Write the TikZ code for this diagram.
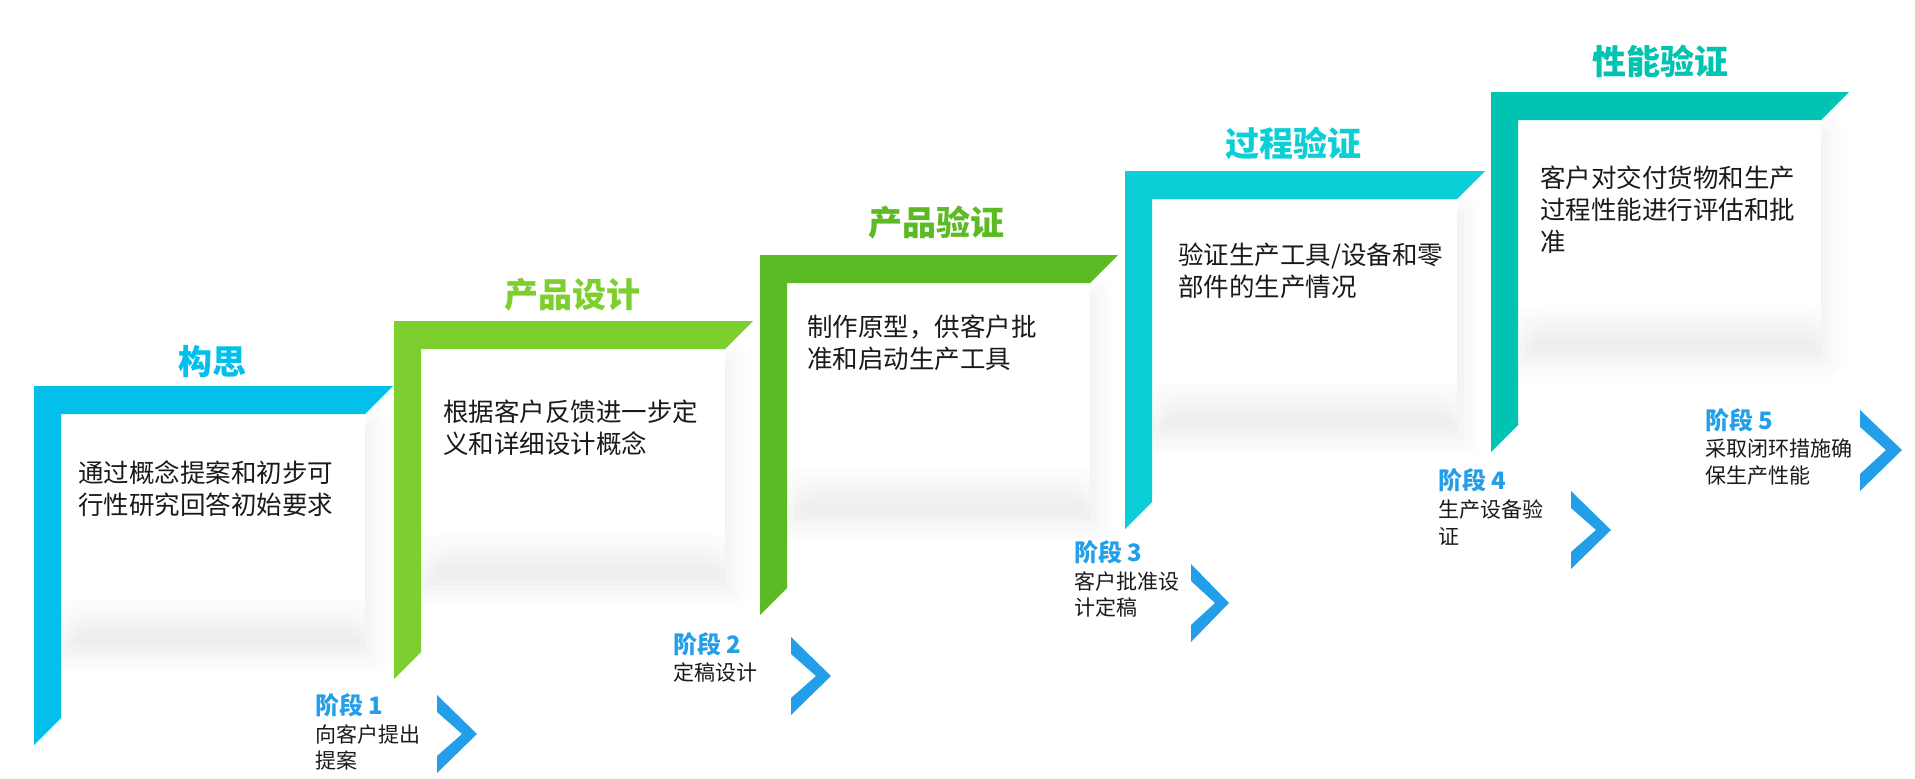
\documentclass[tikz,border=0pt]{standalone}
\usepackage{fontspec}
\setmainfont{Noto Sans CJK SC}
\usetikzlibrary{shadows.blur,fadings}
\definecolor{idea}{HTML}{02C0EB}
\definecolor{design}{HTML}{7FCE30}
\definecolor{proto}{HTML}{5CBB24}
\definecolor{process}{HTML}{0BCED6}
\definecolor{perf}{HTML}{00C3B2}
\definecolor{stageblue}{HTML}{229FE8}
\definecolor{ink}{HTML}{1A1A1A}

\begin{document}
\begin{tikzpicture}[x=1pt,y=-1pt,
        bar/.style={fill=#1,draw=none},
        haze/.style={blur shadow={shadow xshift=4pt,shadow yshift=-14pt,shadow blur radius=22pt,shadow opacity=8}},
        card/.style={fill=white,draw=none},
        cardfoot/.style={fill=white,draw=none,path fading=south},
        ttl/.style={font=\fontsize{34}{34}\selectfont\bfseries,text=#1,inner sep=0pt},
        body/.style={font=\fontsize{25.5}{32}\selectfont,text=ink,anchor=north west,align=left,inner sep=0pt},
        stage/.style={font=\fontsize{24}{24}\selectfont\bfseries,text=stageblue,anchor=base west,inner sep=0pt},
        note/.style={font=\fontsize{21}{26.5}\selectfont,text=ink,anchor=north west,align=left,inner sep=0pt},
        chev/.style={fill=stageblue,draw=none}
      ]
      \useasboundingbox (0,0) rectangle (1915,779);

      % the cards, with their soft shadow
      \path[haze] (61,414) rectangle (365,640);
      \path[haze] (421,349) rectangle (725,574);
      \path[haze] (787,283) rectangle (1090,509);
      \path[haze] (1152,199) rectangle (1457,423);
      \path[haze] (1518,120) rectangle (1821,346);
      \path[card] (61,414) rectangle (365,598);
      \path[card] (421,349) rectangle (725,532);
      \path[card] (787,283) rectangle (1090,467);
      \path[card] (1152,199) rectangle (1457,381);
      \path[card] (1518,120) rectangle (1821,304);
      \path[cardfoot] (61,598) rectangle (365,640);
      \path[cardfoot] (421,532) rectangle (725,574);
      \path[cardfoot] (787,467) rectangle (1090,509);
      \path[cardfoot] (1152,381) rectangle (1457,423);
      \path[cardfoot] (1518,304) rectangle (1821,346);

      % step 1
      \path[bar=idea] (34,386) -- (393,386) -- (365,414) -- (61,414) -- (61,718) -- (34,745) -- cycle;
      \node[ttl=idea] (t1) at (212,362) {构思};
      \node[body] (b1) at (78,460) {通过概念提案和初步可\\行性研究回答初始要求};
      \node[stage] (s1) at (315,714) {阶段 1};
      \node[note] (n1) at (315,724) {向客户提出\\提案};
      \path[chev] (437,695) -- ++(40,39) -- ++(-40,39) -- ++(0,-17) -- ++(25,-22) -- ++(-25,-22) -- cycle;

      % step 2
      \path[bar=design] (394,321) -- (753,321) -- (725,349) -- (421,349) -- (421,652) -- (394,679) -- cycle;
      \node[ttl=design] (t2) at (572,295) {产品设计};
      \node[body] (b2) at (443,400) {根据客户反馈进一步定\\义和详细设计概念};
      \node[stage] (s2) at (673,653) {阶段 2};
      \node[note] (n2) at (673,663) {定稿设计};
      \path[chev] (791,637) -- ++(40,39) -- ++(-40,39) -- ++(0,-17) -- ++(25,-22) -- ++(-25,-22) -- cycle;

      % step 3
      \path[bar=proto] (760,255) -- (1118,255) -- (1090,283) -- (787,283) -- (787,588) -- (760,615) -- cycle;
      \node[ttl=proto] (t3) at (936,223) {产品验证};
      \node[body] (b3) at (807,315) {制作原型，供客户批\\准和启动生产工具};
      \node[stage] (s3) at (1074,561) {阶段 3};
      \node[note] (n3) at (1074,571) {客户批准设\\计定稿};
      \path[chev] (1191,564) -- ++(38,39) -- ++(-38,39) -- ++(0,-17) -- ++(24,-22) -- ++(-24,-22) -- cycle;

      % step 4
      \path[bar=process] (1125,171) -- (1485,171) -- (1457,199) -- (1152,199) -- (1152,502) -- (1125,529) -- cycle;
      \node[ttl=process] (t4) at (1293,143) {过程验证};
      \node[body] (b4) at (1178,243) {验证生产工具/设备和零\\部件的生产情况};
      \node[stage] (s4) at (1438,489) {阶段 4};
      \node[note] (n4) at (1438,500) {生产设备验\\证};
      \path[chev] (1571,491) -- ++(40,39) -- ++(-40,39) -- ++(0,-17) -- ++(25,-22) -- ++(-25,-22) -- cycle;

      % step 5
      \path[bar=perf] (1491,92) -- (1849,92) -- (1821,120) -- (1518,120) -- (1518,425) -- (1491,452) -- cycle;
      \node[ttl=perf] (t5) at (1660,61) {性能验证};
      \node[body] (b5) at (1540,166) {客户对交付货物和生产\\过程性能进行评估和批\\准};
      \node[stage] (s5) at (1705,429) {阶段 5};
      \node[note] (n5) at (1705,439) {采取闭环措施确\\保生产性能};
      \path[chev] (1860,410) -- ++(42,40) -- ++(-42,41) -- ++(0,-17) -- ++(26,-24) -- ++(-26,-23) -- cycle;
    \end{tikzpicture}
\end{document}
